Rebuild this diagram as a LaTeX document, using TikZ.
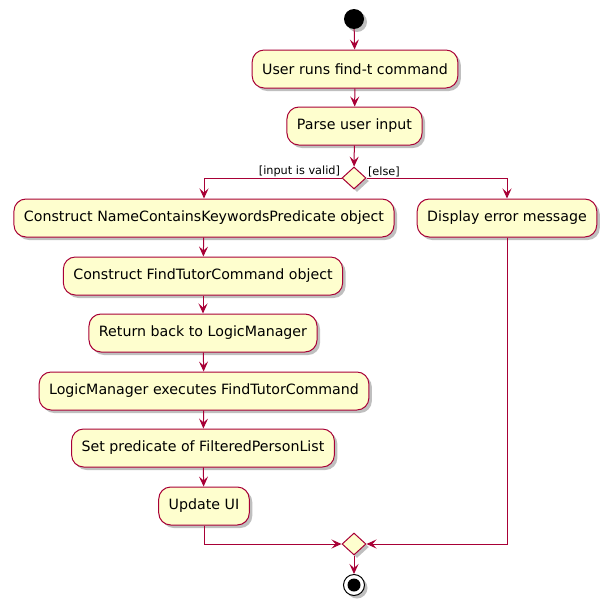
\documentclass[tikz,border=0pt]{standalone}
\usepackage{fontspec}
\setmainfont{DejaVu Sans}
\usetikzlibrary{arrows.meta, shadows, shapes.geometric}
\definecolor{umlfill}{RGB}{254, 254, 206}
\definecolor{umlred}{RGB}{168, 0, 54}
\tikzset{
    actbox/.style={
        rectangle, rounded corners=12pt, minimum height=38pt, inner xsep=10pt,
        draw=umlred, fill=umlfill, line width=1pt, text=black,
        font=\fontsize{14.2}{16}\selectfont,
        drop shadow={shadow xshift=3pt, shadow yshift=-3pt, fill=black, opacity=0.25}
    },
    branch/.style={
        diamond, minimum width=24pt, minimum height=22pt, inner sep=0pt, aspect=1,
        draw=umlred, fill=umlfill, line width=1pt,
        drop shadow={shadow xshift=3pt, shadow yshift=-3pt, fill=black, opacity=0.25}
    },
    startdot/.style={circle, fill=black, minimum size=20pt, inner sep=0pt,
        drop shadow={shadow xshift=3pt, shadow yshift=-3pt, fill=black, opacity=0.25}},
    stopdot/.style={circle, draw=black, fill=white, line width=1pt, minimum size=21pt, inner sep=0pt,
        path picture={\fill[black] (path picture bounding box.center) circle (6.5pt);},
        drop shadow={shadow xshift=3pt, shadow yshift=-3pt, fill=black, opacity=0.25}},
    arrow/.style={-{Stealth[length=10pt, width=9pt, inset=4pt]}, umlred, line width=1pt},
    guard/.style={font=\fontsize{11.3}{13}\selectfont, text=black, inner sep=1pt},
}
\begin{document}
\begin{tikzpicture}[x=1pt, y=-1pt]
    \useasboundingbox (0,0) rectangle (612,613);

    \node[startdot] (start) at (354, 19) {};
    \node[actbox] (userruns) at (355, 69) {User runs find-t command};
    \node[actbox] (parse) at (354.5, 126) {Parse user input};
    \node[branch] (split) at (354, 178) {};

    % valid branch
    \node[actbox] (construct) at (204, 218) {Construct NameContainsKeywordsPredicate object};
    \node[actbox] (findtutor) at (203, 276) {Construct FindTutorCommand object};
    \node[actbox] (returnback) at (203, 333) {Return back to LogicManager};
    \node[actbox] (executes) at (204, 391) {LogicManager executes FindTutorCommand};
    \node[actbox] (setpred) at (203, 448) {Set predicate of FilteredPersonList};
    \node[actbox] (updateui) at (204, 506) {Update UI};

    % else branch
    \node[actbox] (display) at (507, 218) {Display error message};

    \node[branch] (merge) at (354, 544) {};
    \node[stopdot] (stop) at (354, 585) {};

    \draw[arrow] (start) -- (userruns);
    \draw[arrow] (userruns) -- (parse);
    \draw[arrow] (parse) -- (split);
    \draw[arrow] (split.west) node[guard, above left] {[input is valid]} -| (construct.north);
    \draw[arrow] (split.east) node[guard, above right] {[else]} -| (display.north);
    \draw[arrow] (construct) -- (findtutor);
    \draw[arrow] (findtutor) -- (returnback);
    \draw[arrow] (returnback) -- (executes);
    \draw[arrow] (executes) -- (setpred);
    \draw[arrow] (setpred) -- (updateui);
    \draw[arrow] (updateui.south) |- (merge.west);
    \draw[arrow] (display.south) |- (merge.east);
    \draw[arrow] (merge) -- (stop);
\end{tikzpicture}
\end{document}
